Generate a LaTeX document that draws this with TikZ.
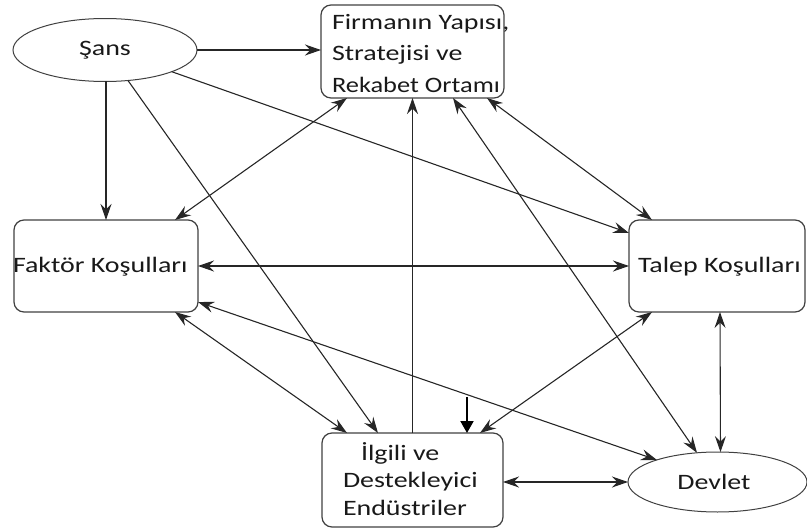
\documentclass[tikz,border=0pt]{standalone}
\usepackage{fontspec}
\usepackage{graphicx}
\setmainfont{Carlito}
\usetikzlibrary{arrows.meta,shapes.geometric,calc}
\newcommand\widetxt[1]{\scalebox{1.27}[1]{#1}}
\tikzset{
  box/.style={draw=black!75, line width=1.2pt, rounded corners=10pt, inner sep=0pt, outer sep=0pt},
  oval/.style={draw=black!75, line width=1pt, ellipse, inner sep=0pt, outer sep=0pt},
  txt/.style={inner sep=0pt, outer sep=0pt, font=\fontsize{22}{26}\selectfont, text=black!90},
  con/.style={draw=black!85, line width=1.1pt},
  tip/.style={-{Stealth[length=16pt,width=11pt,inset=5.5pt]}},
  tips/.style={{Stealth[length=16pt,width=11pt,inset=5.5pt]}-{Stealth[length=16pt,width=11pt,inset=5.5pt]}},
}
\begin{document}
\begin{tikzpicture}[x=1pt,y=-1pt]
\useasboundingbox (0,0) rectangle (807,530);
% nodes
\node[oval, minimum width=184pt, minimum height=63pt] (sans) at (105,50) {};
\node[box, minimum width=183pt, minimum height=93pt] (firma) at (412.5,51.5) {};
\node[box, minimum width=184pt, minimum height=92pt] (faktor) at (106,266) {};
\node[box, minimum width=176pt, minimum height=92pt] (talep) at (717,266) {};
\node[box, minimum width=181pt, minimum height=94pt] (ilgili) at (412.5,480) {};
\node[oval, minimum width=179pt, minimum height=60pt] (devlet) at (717.5,482) {};
% texts
\node[txt] (tsans) at (105,50) {\widetxt{Şans}};
\node[txt, anchor=base west] (tf1) at (332,29) {\widetxt{Firmanın Yapısı,}};
\node[txt, anchor=base west] (tf2) at (332,60.5) {\widetxt{Stratejisi ve}};
\node[txt, anchor=base west] (tf3) at (332,92) {\scalebox{1.2}[1]{Rekabet Ortamı}};
\node[txt, anchor=west] (tfak) at (13,267) {\widetxt{Faktör Koşulları}};
\node[txt, anchor=west] (ttal) at (638,267) {\widetxt{Talep Koşulları}};
\node[txt, anchor=base west] (ti1) at (361,460) {\widetxt{İlgili ve}};
\node[txt, anchor=base west] (ti2) at (343,487.5) {\widetxt{Destekleyici}};
\node[txt, anchor=base west] (ti3) at (343,515) {\widetxt{Endüstriler}};
\node[txt] (tdev) at (714,482) {\widetxt{Devlet}};
% helper points
\coordinate (tv1) at ($(talep.south)+(3,0)$);
\coordinate (tv2) at ($(devlet.center)+(3,-29.9)$);
% connectors
\draw[con,tip] (sans.east) -- (sans.east -| firma.west);
\draw[con,tip] (sans.south) -- (sans.south -| faktor.north) -- (faktor.north);
\draw[con,tip] (sans.-53) -- ($(ilgili.north west)+(56,0)$);
\draw[con,tip] (sans.-18) -- ($(talep.north west)+(0,13)$);
\draw[con,tips] ($(firma.south west)+(26,0)$) -- ($(faktor.north east)+(-23,0)$);
\draw[con,tip] (ilgili.north) -- (firma.south);
\draw[con,tips] ($(firma.south west)+(132,0)$) -- ($(devlet.center)+(-20.5,-29.2)$);
\draw[con,tips] ($(firma.south west)+(166,0)$) -- ($(talep.north west)+(23,0)$);
\draw[con,tips] (faktor.east) -- (talep.west);
\draw[con,tips] ($(faktor.south east)+(-23,0)$) -- ($(ilgili.north west)+(25,0)$);
\draw[con,tips] ($(faktor.south east)+(0,-10)$) -- ($(devlet.center)+(-60.5,-22)$);
\draw[con,tips] ($(talep.south west)+(23,0)$) -- ($(ilgili.north east)+(-23,0)$);
\draw[con,tips] (tv1) -- (tv2);
\draw[con,tips] (ilgili.east |- devlet.center) -- (devlet.west);
\coordinate (stray) at (467,397);
\draw[line width=2pt, black, -{Triangle[length=12pt,width=13pt]}] (stray) -- (stray |- ilgili.north);
\end{tikzpicture}
\end{document}
